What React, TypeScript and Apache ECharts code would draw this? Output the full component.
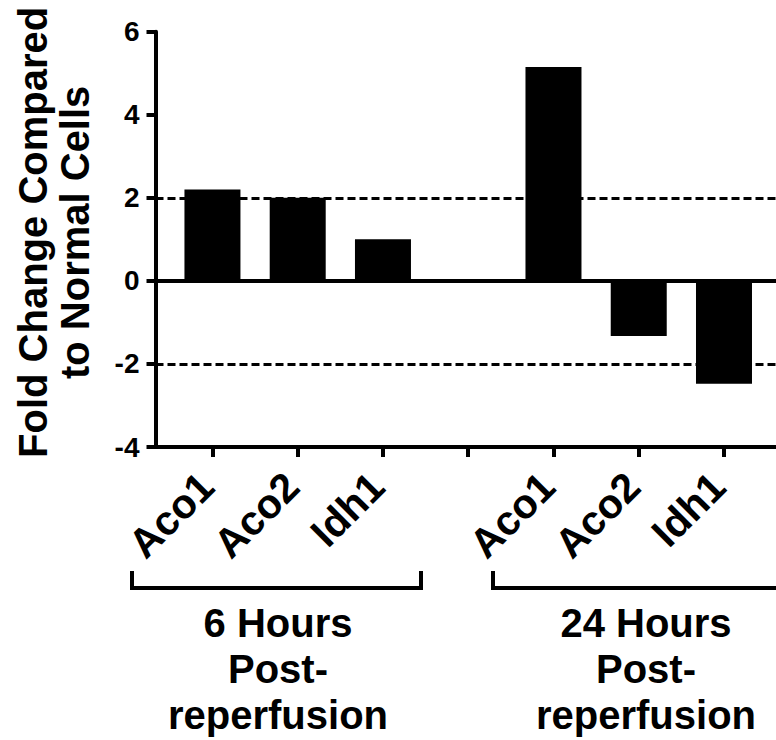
import React, { useEffect, useRef } from "react";
import * as echarts from "echarts";

const categories = ["Aco1", "Aco2", "Idh1", "", "Aco1", "Aco2", "Idh1"];
const values: (number | null)[] = [2.2, 2.0, 1.0, null, 5.15, -1.33, -2.48];
const yTicks = [-4, -2, 0, 2, 4, 6];
const dashedRefs = [2, -2];
const groupLabels = ["6 Hours\nPost-\nreperfusion", "24 Hours\nPost-\nreperfusion"];
const yTitle = "Fold Change Compared\nto Normal Cells";

const FONT = '"Liberation Sans", Arial, Helvetica, sans-serif';

export default function App() {
  const ref = useRef<HTMLDivElement>(null);
  useEffect(() => {
    if (!ref.current) return;
    const chart = echarts.init(ref.current, undefined, { renderer: "svg" });
    const barData = values
      .map((v, i) => (v === null ? null : [i, v]))
      .filter((d) => d !== null);
    const tickIdx = categories.map((_, i) => i);
    const labelIdx = categories.map((c, i) => (c ? i : -1)).filter((i) => i >= 0);
    const option: any = {
      animation: false,
      backgroundColor: "#ffffff",
      grid: {
        left: 155.5,
        right: 0,
        top: 31.7,
        bottom: 293,
        containLabel: false,
        outerBoundsMode: "none",
      },
      xAxis: {
        type: "value",
        min: -0.668,
        max: 6.61,
        splitLine: { show: false },
        axisLine: { onZero: false, lineStyle: { color: "#000", width: 4 } },
        axisTick: {
          show: true,
          customValues: tickIdx,
          length: 10,
          lineStyle: { color: "#000", width: 4 },
        },
        axisLabel: {
          customValues: labelIdx,
          rotate: 45,
          margin: 27,
          padding: [0, 8, 0, 0],
          fontSize: 41,
          fontWeight: "bold",
          fontFamily: FONT,
          color: "#000",
          formatter: (v: number) => categories[Math.round(v)] ?? "",
        },
      },
      yAxis: {
        type: "value",
        min: yTicks[0],
        max: yTicks[yTicks.length - 1],
        interval: 2,
        name: yTitle,
        nameLocation: "middle",
        nameRotate: 90,
        nameGap: 60,
        nameTextStyle: {
          fontSize: 40,
          fontWeight: "bold",
          fontFamily: FONT,
          color: "#000",
          lineHeight: 42,
          padding: [0, 0, 0, 14],
        },
        splitLine: { show: false },
        axisLine: { show: true, onZero: false, lineStyle: { color: "#000", width: 4 } },
        axisTick: { show: true, length: 9, lineStyle: { color: "#000", width: 4 } },
        axisLabel: {
          margin: 16,
          fontSize: 28,
          fontWeight: "bold",
          fontFamily: FONT,
          color: "#000",
        },
      },
      series: [
        {
          type: "bar",
          data: barData,
          barWidth: 56,
          itemStyle: { color: "#000" },
          markLine: {
            silent: true,
            symbol: ["none", "none"],
            label: { show: false },
            data: [
              ...dashedRefs.map((v) => ({
                yAxis: v,
                lineStyle: { color: "#000", width: 3, type: [8, 4] },
              })),
              { yAxis: 0, lineStyle: { color: "#000", width: 4, type: "solid" } },
            ],
          },
        },
      ],
      graphic: [
        {
          type: "polyline",
          shape: { points: [[132, 571], [132, 588], [421, 588], [421, 571]] },
          style: { stroke: "#000", lineWidth: 4, fill: null },
        },
        {
          type: "polyline",
          shape: { points: [[493, 571], [493, 588], [790, 588]] },
          style: { stroke: "#000", lineWidth: 4, fill: null },
        },
        {
          type: "text",
          x: 278,
          y: 600,
          style: {
            text: groupLabels[0],
            fontSize: 40,
            fontWeight: "bold",
            fontFamily: FONT,
            fill: "#000",
            align: "center",
            verticalAlign: "top",
            lineHeight: 46,
          },
        },
        {
          type: "text",
          x: 646,
          y: 600,
          style: {
            text: groupLabels[1],
            fontSize: 40,
            fontWeight: "bold",
            fontFamily: FONT,
            fill: "#000",
            align: "center",
            verticalAlign: "top",
            lineHeight: 46,
          },
        },
      ],
    };
    chart.setOption(option);
    return () => chart.dispose();
  }, []);
  return (
    <div
      ref={ref}
      style={{ position: "fixed", left: 0, top: 0, width: 776, height: 740, background: "#fff" }}
    />
  );
}
